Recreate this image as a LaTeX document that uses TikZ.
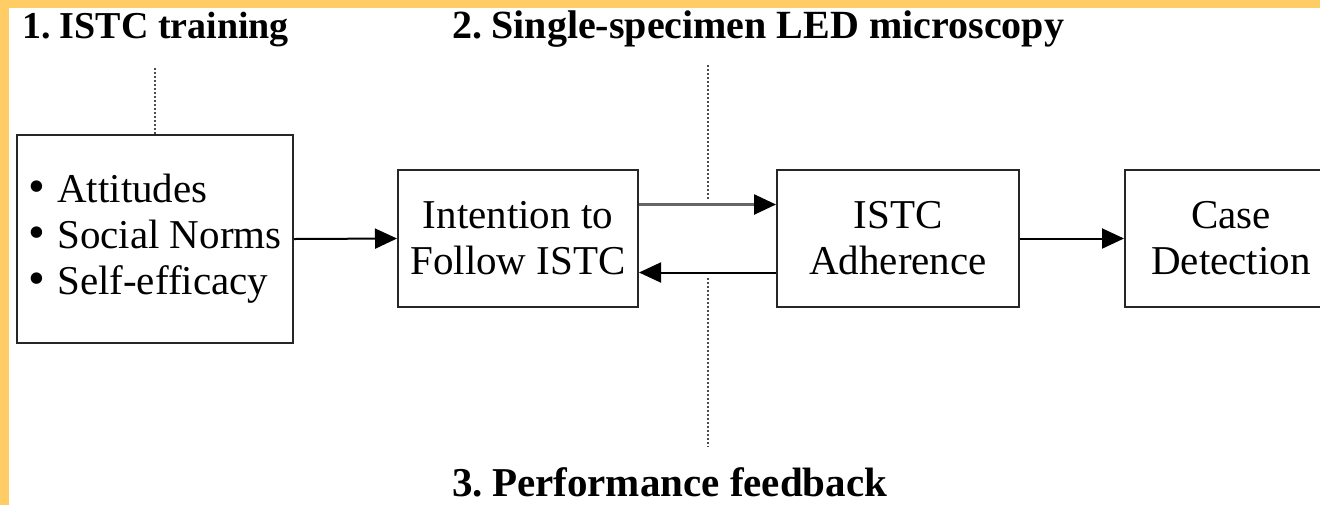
\documentclass[tikz,border=0pt]{standalone}
\usepackage{fontspec}
\setmainfont{Liberation Serif}
\usetikzlibrary{arrows.meta}
\definecolor{frame}{RGB}{255,204,102}
\tikzset{
  box/.style={draw=black!85, line width=1pt, fill=white, align=center, font=\fontsize{20.5}{23}\selectfont, inner sep=0pt},
  title/.style={anchor=west, font=\fontsize{20}{22}\selectfont\bfseries, inner sep=0pt},
  conn/.style={line width=1pt, -{Triangle[length=11pt,width=10pt]}},
  greyconn/.style={draw=black!60, line width=1.3pt, -{Triangle[length=11pt,width=10pt,color=black]}},
  dotline/.style={draw=black!70, line width=0.6pt, dash pattern=on 0.8pt off 1.2pt}
}
\begin{document}
\begin{tikzpicture}[x=0.5pt,y=-0.5pt]
\useasboundingbox (0,0) rectangle (1320,505);
\clip (0,0) rectangle (1320,505);
\fill[frame] (0,0) rectangle (1320,8);
\fill[frame] (0,0) rectangle (9,505);
% titles
\node[title, font=\fontsize{19}{22}\selectfont\bfseries] (t1) at (22,30) {1.\hspace{4.5pt}ISTC training};
\node[title] (t2) at (452,29) {2.\hspace{4.5pt}Single-specimen LED microscopy};
\node[title, font=\fontsize{20.5}{22}\selectfont\bfseries] (t3) at (452,482) {3.\hspace{4.5pt}Performance feedback};
% boxes
\node[box, minimum width=138pt, minimum height=104pt, align=left] (b1) at (155,239)
  {{\fontsize{24}{23}\selectfont\textbullet}\hspace{6pt}Attitudes\\{\fontsize{24}{23}\selectfont\textbullet}\hspace{6pt}Social Norms\\{\fontsize{24}{23}\selectfont\textbullet}\hspace{6pt}Self-efficacy};
\node[box, minimum width=120pt, minimum height=68.5pt] (b2) at (518,238.5) {Intention to\\Follow ISTC};
\node[box, minimum width=121pt, minimum height=68.5pt] (b3) at (898,238.5) {ISTC\\Adherence};
\node[box, minimum width=106pt, minimum height=68.5pt, anchor=west] (b4) at (1124,238.5) {Case\\Detection};
% dotted lines
\coordinate (d1a) at (155,68);
\coordinate (d2a) at (708,65);
\coordinate (d2b) at (708,200);
\coordinate (d3a) at (708,278);
\coordinate (d3b) at (708,447);
\draw[dotline] (d1a) -- (b1.north);
\draw[dotline] (d2a) -- (d2b);
\draw[dotline] (d3a) -- (d3b);
% connectors
\draw[conn] (b1.east) -- (b2.west);
\draw[greyconn] ([yshift=17pt]b2.east) -- ([yshift=17pt]b3.west);
\draw[conn] ([yshift=-17pt]b3.west) -- ([yshift=-17pt]b2.east);
\draw[conn] (b3.east) -- (b4.west);
\end{tikzpicture}
\end{document}
